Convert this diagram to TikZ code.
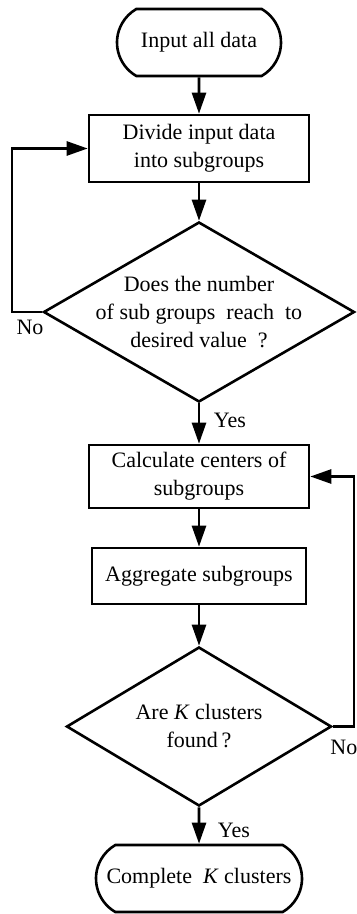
\documentclass[tikz,border=0pt]{standalone}
\usepackage{fontspec}
\setmainfont{Liberation Serif}
\usetikzlibrary{shapes.geometric,shapes.misc,arrows.meta}
\tikzset{
  terminal/.style={draw, rounded rectangle, rounded rectangle arc length=120,
    line width=1.3pt, inner sep=2pt},
  process/.style={draw, rectangle, line width=1.3pt, align=center, inner sep=2pt},
  decision/.style={draw, diamond, line width=1.3pt, align=center,
    inner xsep=-10pt, inner ysep=-4pt},
  flow/.style={line width=1.3pt, -{Triangle[length=10.5pt,width=7pt]}},
  tag/.style={inner sep=0pt}
}
\begin{document}
\begin{tikzpicture}[x=0.5pt,y=-0.5pt,font=\fontsize{11}{14}\selectfont]
  \useasboundingbox (0,0) rectangle (357,914);
  % nodes
  \node[terminal, minimum width=86pt, minimum height=33.5pt] (start) at (199,42.5) {Input all data};
  \node[process, minimum width=110pt, minimum height=33.5pt] (divide) at (199,148.5) {Divide input data\\into subgroups};
  \node[decision, aspect=1.728, minimum width=155.5pt, minimum height=90pt] (reach) at (199,312)
    {Does the number\\of sub groups\ \ reach\ \ to\\desired value\ \ ?};
  \node[process, minimum width=110pt, minimum height=31.5pt] (calc) at (199,476.5) {Calculate centers of\\subgroups};
  \node[process, minimum width=107pt, minimum height=28pt] (aggr) at (199,576) {Aggregate subgroups};
  \node[decision, aspect=1.667, minimum width=132.5pt, minimum height=79.5pt] (found) at (199,726.5)
    {Are \textit{K} clusters\\found\,?};
  \node[terminal, minimum width=107pt, minimum height=33.5pt] (finish) at (199,878.5) {Complete\ \ \textit{K} clusters};
  % labels
  \node[tag] (no1) at (30,327) {No};
  \node[tag] (yes1) at (230,420) {Yes};
  \node[tag, anchor=west] (no2) at (330,747) {No};
  \node[tag] (yes2) at (234,830) {Yes};
  \coordinate (loopl) at (12,148.5);
  \coordinate (loopr) at (354,476.5);
  %edges
  \draw[flow] (start) -- (divide);
  \draw[flow] (divide) -- (reach);
  \draw[flow] (reach) -- (calc);
  \draw[flow] (calc) -- (aggr);
  \draw[flow] (aggr) -- (found);
  \draw[flow] (found) -- (finish);
  \draw[flow] (reach.west) -| (loopl) -- (divide.west);
  \draw[flow] (found.east) -| (loopr) -- (calc.east);
\end{tikzpicture}
\end{document}
